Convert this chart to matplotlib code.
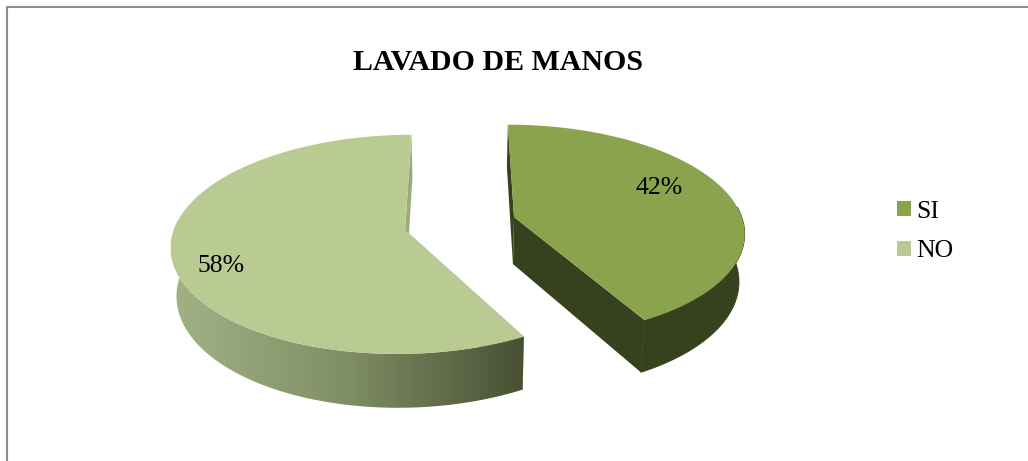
import matplotlib
matplotlib.use("Agg")

import matplotlib.pyplot as plt
import numpy as np
from matplotlib.colors import LinearSegmentedColormap
from matplotlib.patches import Patch, Polygon

TITLE = "LAVADO DE MANOS"
CATEGORIES = ["SI", "NO"]
PERCENTS = [42, 58]
TOP_COLORS = ["#89a44d", "#b9cb93"]
CUT_COLORS = ["#38411d", "#9aab7c"]

# pie projection, in pixels
CENTER_X, CENTER_Y = 460.0, 223.5
RADIUS_X, RADIUS_Y = 229.5, 106.0
PERSPECTIVE = 0.13
EXPLODE = 0.245
DEPTH = 47.3
BOTTOM_SCALE_X, BOTTOM_SCALE_Y = 0.98, 1.05


def project(x, y, bottom=False):
    w = 1 + PERSPECTIVE * y
    u = x * RADIUS_X / w
    v = -y * RADIUS_Y / w
    if bottom:
        u = u * BOTTOM_SCALE_X
        v = v * BOTTOM_SCALE_Y + DEPTH
    return np.column_stack([CENTER_X + u, CENTER_Y + v])


def slice_outline(start, end):
    # angles run clockwise from 12 o'clock
    mid = (start + end) / 2
    off_x = EXPLODE * np.sin(mid)
    off_y = EXPLODE * np.cos(mid)
    theta = np.linspace(start, end, 200)
    rim = (off_x + np.sin(theta), off_y + np.cos(theta))
    apex = (np.array([off_x]), np.array([off_y]))
    return apex, rim, theta


def draw_slice(ax, start, end, top_color, cut_color, rim_gradient=None):
    apex, rim, theta = slice_outline(start, end)
    apex_top, apex_bot = project(*apex), project(*apex, bottom=True)
    rim_top, rim_bot = project(*rim), project(*rim, bottom=True)

    # cut faces first, the front of the rim hides the one facing away
    for i in (0, -1):
        face = np.vstack([apex_top, rim_top[i], rim_bot[i], apex_bot])
        ax.add_patch(Polygon(face, closed=True, fc=cut_color, ec="none", zorder=2))

    front = np.cos(theta) < 0.1
    side = np.vstack([rim_top[front], rim_bot[front][::-1]])
    if rim_gradient is None:
        ax.add_patch(Polygon(side, closed=True, fc=cut_color, ec=cut_color, lw=0.6, zorder=3))
    else:
        clip = Polygon(side, closed=True, fc="none", ec="none", transform=ax.transData)
        ax.add_patch(clip)
        x0, x1 = side[:, 0].min(), side[:, 0].max()
        y0, y1 = side[:, 1].min(), side[:, 1].max()
        img = ax.imshow(
            np.linspace(0, 1, 256).reshape(1, -1),
            cmap=rim_gradient,
            extent=(x0, x1, y1, y0),
            aspect="auto",
            zorder=3,
        )
        img.set_clip_path(clip)

    top = np.vstack([apex_top, rim_top])
    ax.add_patch(Polygon(top, closed=True, fc=top_color, ec="none", zorder=4))


def main():
    plt.rcParams["font.family"] = ["Liberation Serif", "DejaVu Serif"]

    fig = plt.figure(figsize=(10.28, 4.61), dpi=100)
    ax = fig.add_axes([0, 0, 1, 1])
    ax.set_axis_off()

    # chart frame, open at the bottom and right of the page
    ax.plot([7, 7, 1028], [461, 7, 7], color="#8e8e8e", lw=1.5, zorder=1)

    shade = LinearSegmentedColormap.from_list("rim", ["#a3b285", "#7f8e64", "#484f33"])
    gradients = [None, shade]

    edges = np.cumsum([0] + PERCENTS) / sum(PERCENTS) * 2 * np.pi
    for i in range(len(PERCENTS)):
        draw_slice(ax, edges[i], edges[i + 1], TOP_COLORS[i], CUT_COLORS[i], gradients[i])

    ax.set_xlim(0, 1028)
    ax.set_ylim(461, 0)

    ax.text(498, 63, TITLE, ha="center", va="center", fontsize=21.5, fontweight="bold", zorder=6)
    ax.text(659, 188, f"{PERCENTS[0]}%", ha="center", va="center", fontsize=18.5, zorder=6)
    ax.text(221, 266, f"{PERCENTS[1]}%", ha="center", va="center", fontsize=18.5, zorder=6)

    handles = [Patch(fc=c, ec="none") for c in TOP_COLORS]
    ax.legend(
        handles,
        CATEGORIES,
        loc="center left",
        bbox_to_anchor=(893, 231.5),
        bbox_transform=ax.transData,
        frameon=False,
        fontsize=18.5,
        handlelength=0.55,
        handleheight=0.55,
        handletextpad=0.22,
        labelspacing=0.7,
        borderpad=0.15,
        borderaxespad=0,
    )

    fig.savefig("out.png", dpi=100)
    plt.close(fig)


if __name__ == "__main__":
    main()
